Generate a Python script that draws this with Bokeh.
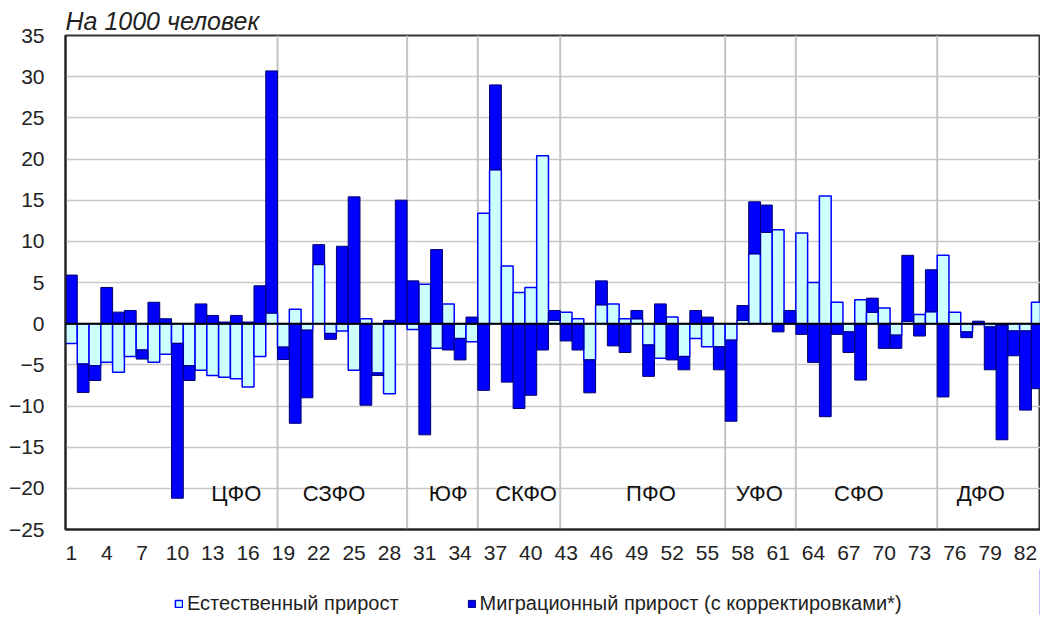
from bokeh.plotting import figure
from bokeh.models import FixedTicker, Span, Legend, LegendItem
from bokeh.layouts import column
from bokeh.embed import file_html
from bokeh.resources import INLINE
from bokeh.core.properties import value

# ---------------- data ----------------
regions = list(range(1, 84))

natural = [
    -2.4, -4.9, -5.1, -4.7, -5.9, -4.0, -3.2, -4.7, -3.7, -2.4,
    -5.1, -5.65, -6.3, -6.5, -6.7, -7.7, -4.0, 1.3, -2.85, 1.75,
    -0.8, 7.2, -1.2, -0.9, -5.65, 0.6, -6.0, -8.5, 0.0, -0.7,
    4.8, -3.0, 2.4, -1.8, -2.2, 13.4, 18.7, 7.0, 3.8, 4.4,
    20.4, 0.4, 1.4, 0.6, -4.4, 2.3, 2.4, 0.6, 0.6, -2.6,
    -4.2, 0.8, -4.0, -1.8, -2.8, -2.8, -2.0, 0.4, 8.5, 11.1,
    11.4, 0.0, 11.0, 5.0, 15.5, 2.6, -1.0, 2.9, 1.4, 1.9,
    -1.4, 0.3, 1.1, 1.45, 8.3, 1.4, -1.0, -0.1, -0.4, -0.2,
    -0.9, -0.9, 2.6,
]

migration = [
    5.9, -3.45, -1.8, 4.4, 1.4, 1.6, -1.1, 2.6, 0.6, -18.8,
    -1.8, 2.4, 1.0, 0.2, 1.0, 0.2, 4.6, 29.4, -1.5, -12.1,
    -8.2, 2.4, -0.7, 9.4, 15.4, -9.9, -0.3, 0.4, 15.0, 5.2,
    -13.5, 9.0, -3.2, -2.6, 0.8, -8.1, 10.3, -7.1, -10.3, -8.7,
    -3.2, 1.2, -2.1, -3.2, -4.0, 2.9, -2.7, -3.5, 1.0, -3.8,
    2.4, -4.4, -1.6, 1.6, 0.8, -2.8, -9.85, 1.8, 6.3, 3.3,
    -1.0, 1.6, -1.3, -4.7, -11.3, -1.3, -2.5, -6.85, 1.7, -3.0,
    -1.6, 8.0, -1.5, 5.1, -8.9, -0.1, -0.7, 0.3, -5.2, -13.9,
    -3.0, -9.6, -7.9,
]

district_names = ["ЦФО", "СЗФО", "ЮФ", "СКФО", "ПФО", "УФО", "СФО", "ДФО"]
district_sizes = [18, 11, 6, 7, 14, 6, 12, 9]
district_label_x = [15.0, 23.3, 33.0, 39.6, 50.2, 59.4, 67.85, 78.2]

x_ticks = list(range(1, 84, 3))
y_ticks = list(range(-25, 36, 5))

series_names = ["Естественный прирост", "Миграционный прирост (с корректировками*)"]
title_text = "На 1000 человек"

# stacking: same-sign migration stacks on top of natural, otherwise starts at 0
mig_bottom = [n if (n >= 0) == (m >= 0) else 0.0 for n, m in zip(natural, migration)]
mig_top = [b + m for b, m in zip(mig_bottom, migration)]

boundaries = []
acc = 0
for s in district_sizes[:-1]:
    acc += s
    boundaries.append(acc + 0.5)

FONT = "Liberation Sans"
TXT = "#222222"
NAT_STYLE = dict(fill_color="#CCFFFF", line_color="#0000FF", line_width=1.5)
MIG_STYLE = dict(fill_color="#0000FF", line_color="#000070", line_width=1)

p = figure(width=1040, height=569, x_range=(0.5, 83.27), y_range=(-25, 35),
           output_backend="svg", toolbar_location=None,
           min_border_left=65, min_border_right=0, min_border_top=35,
           min_border_bottom=40)

p.title.text = title_text
p.title.text_font = FONT
p.title.text_font_style = "italic"
p.title.text_font_size = "25px"
p.title.text_color = TXT
p.title.align = "left"
p.title.standoff = 2

p.outline_line_color = "#333333"
p.outline_line_width = 2
p.background_fill_color = "white"
p.border_fill_color = "white"

# axes
p.yaxis.ticker = FixedTicker(ticks=y_ticks)
p.xaxis.ticker = FixedTicker(ticks=x_ticks)
for ax in (p.xaxis, p.yaxis):
    ax.major_label_text_font = FONT
    ax.major_label_text_font_size = "21px"
    ax.major_label_text_color = TXT
    ax.major_tick_out = 0
    ax.major_tick_in = 0
    ax.minor_tick_out = 0
    ax.minor_tick_in = 0
    ax.axis_line_color = "#222222"
    ax.axis_line_width = 2
p.yaxis.major_label_standoff = 21
p.xaxis.major_label_standoff = 16

p.xgrid.visible = False
p.ygrid.ticker = FixedTicker(ticks=y_ticks)
p.ygrid.grid_line_color = "#c8c8c8"
p.ygrid.grid_line_width = 1.5

# district separators
p.segment(x0=boundaries, y0=[-25] * len(boundaries), x1=boundaries, y1=[35] * len(boundaries),
          line_color="#c4c4c4", line_width=2)

p.vbar(x=regions, bottom=0, top=natural, width=1.0, **NAT_STYLE)
p.vbar(x=regions, bottom=mig_bottom, top=mig_top, width=1.0, **MIG_STYLE)

p.add_layout(Span(location=0, dimension="width", line_color="black", line_width=2))

p.text(x=district_label_x, y=[-20.6] * len(district_names), text=district_names,
       text_font=value(FONT), text_font_size="22px", text_align="center",
       text_baseline="middle", text_color="#111111")

# ---------------- legend strip ----------------
lg = figure(width=1040, height=46, x_range=(0, 1), y_range=(0, 1),
            output_backend="svg", toolbar_location=None,
            min_border_left=0, min_border_right=0, min_border_top=0, min_border_bottom=0)
lg.axis.visible = False
lg.grid.visible = False
lg.outline_line_color = None
lg.background_fill_color = "white"
lg.border_fill_color = "white"
# legend-key proxies, kept outside the strip's visible range
ln = lg.vbar(x=[5], top=[5], width=0.1, **NAT_STYLE)
lm = lg.vbar(x=[5], top=[5], width=0.1, **MIG_STYLE)

legend = Legend(items=[LegendItem(label=series_names[0], renderers=[ln]),
                       LegendItem(label=series_names[1], renderers=[lm])],
                orientation="horizontal", location=(109, 0),
                label_text_font=FONT, label_text_font_size="20px", label_text_color=TXT,
                glyph_width=9, glyph_height=9, label_standoff=4, spacing=68,
                padding=0, margin=0, border_line_alpha=0, background_fill_alpha=0)
lg.add_layout(legend, "center")

layout = column(p, lg, spacing=0)
open("out.html", "w").write(file_html(layout, INLINE))
